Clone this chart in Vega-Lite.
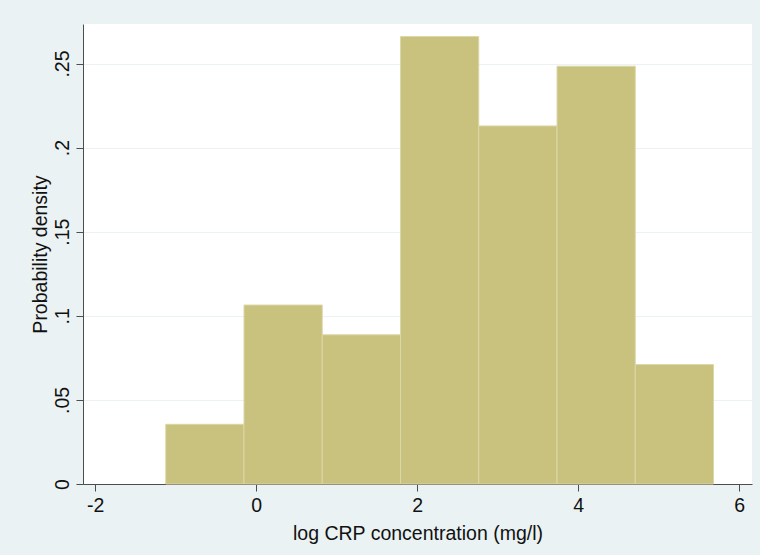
{
  "$schema": "https://vega.github.io/schema/vega-lite/v6.json",
  "autosize": "none",
  "width": 669,
  "height": 460,
  "padding": {"left": 83, "top": 24, "right": 8, "bottom": 71},
  "background": "#EAF2F3",
  "config": {
    "font": "Liberation Sans",
    "view": {"fill": "white", "stroke": null},
    "axis": {
      "domainColor": "#4D4D4D",
      "domainWidth": 1,
      "tickColor": "#4D4D4D",
      "tickSize": 7,
      "tickWidth": 1,
      "labelColor": "#111111",
      "titleColor": "#111111",
      "labelFontSize": 19.5,
      "titleFontSize": 19.5,
      "titleFontWeight": "normal",
      "gridColor": "#EAF2F3",
      "gridWidth": 1
    }
  },
  "data": {
    "values": [
      {"bin_start": -1.122, "bin_end": -0.150, "density": 0.0355},
      {"bin_start": -0.150, "bin_end": 0.822, "density": 0.1064},
      {"bin_start": 0.822, "bin_end": 1.794, "density": 0.0887},
      {"bin_start": 1.794, "bin_end": 2.766, "density": 0.2661},
      {"bin_start": 2.766, "bin_end": 3.738, "density": 0.2129},
      {"bin_start": 3.738, "bin_end": 4.710, "density": 0.2484},
      {"bin_start": 4.710, "bin_end": 5.682, "density": 0.0710}
    ]
  },
  "mark": {"type": "bar", "fill": "#C9C17E", "stroke": "#DCD7A6", "strokeWidth": 1},
  "encoding": {
    "x": {
      "field": "bin_start",
      "type": "quantitative",
      "scale": {"domain": [-2.15, 6.16], "nice": false, "zero": false},
      "axis": {
        "title": "log CRP concentration (mg/l)",
        "values": [-2, 0, 2, 4, 6],
        "labelExpr": "toString(datum.value)",
        "grid": false,
        "labelPadding": 5,
        "titlePadding": 10
      }
    },
    "x2": {"field": "bin_end"},
    "y": {
      "field": "density",
      "type": "quantitative",
      "scale": {"domain": [0, 0.2735], "nice": false},
      "axis": {
        "title": "Probability density",
        "values": [0, 0.05, 0.1, 0.15, 0.2, 0.25],
        "labelExpr": "datum.value == 0 ? '0' : replace(toString(datum.value), '0.', '.')",
        "labelAngle": -90,
        "labelAlign": "center",
        "labelBaseline": "bottom",
        "labelPadding": 4,
        "titlePadding": 2,
        "grid": true
      }
    },
    "y2": {"datum": 0}
  }
}
